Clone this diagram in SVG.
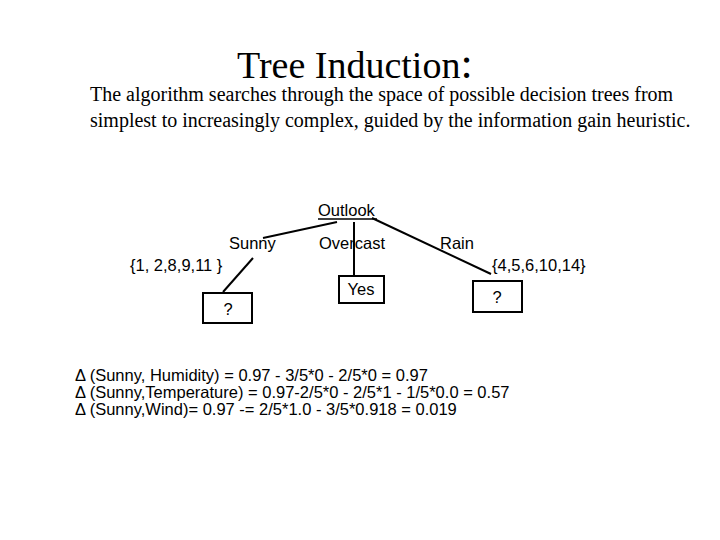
<svg xmlns="http://www.w3.org/2000/svg" width="720" height="540" viewBox="0 0 720 540">
<style>
.s{font-family:"Liberation Sans",Arial,sans-serif;font-size:16.5px;fill:#000}
.d{font-family:"Liberation Sans",Arial,sans-serif;font-size:16.5px;fill:#000}
.t{font-family:"Liberation Serif","Times New Roman",serif;fill:#000}
.b{fill:#fff;stroke:#000;stroke-width:2}
.c line{stroke:#000;stroke-width:2}
</style>
<rect width="720" height="540" fill="#fff"/>
<text class="t" x="237" y="78" font-size="38">Tree Induction<tspan font-size="44">:</tspan></text>
<text class="t" x="90" y="101" font-size="20">The algorithm searches through the space of possible decision trees from</text>
<text class="t" x="90" y="127" font-size="20">simplest to increasingly complex, guided by the information gain heuristic.</text>
<g id="connectors" class="c">
<line x1="337" y1="222" x2="263" y2="238"/>
<line x1="253" y1="258" x2="223" y2="292"/>
<line x1="354" y1="222" x2="354" y2="276"/>
<line x1="372" y1="218" x2="491" y2="274"/>
</g>
<g id="outlook"><text class="s" x="318" y="216">Outlook</text><line x1="318" y1="219" x2="377" y2="219" stroke="#000" stroke-width="1.5"/></g>
<g id="sunny"><text class="s" x="229" y="249">Sunny</text><text class="s" x="130" y="271">{1, 2,8,9,11 }</text></g>
<g id="overcast"><text class="s" x="319" y="249">Overcast</text></g>
<g id="rain"><text class="s" x="440" y="249">Rain</text><text class="s" x="492" y="271">{4,5,6,10,14}</text></g>
<g id="q1"><rect class="b" x="203" y="293" width="49" height="30"/><text class="s" x="228" y="315" text-anchor="middle">?</text></g>
<g id="yes"><rect class="b" x="339" y="276" width="45" height="27"/><text class="s" x="361" y="295" text-anchor="middle">Yes</text></g>
<g id="q2"><rect class="b" x="473" y="281" width="49" height="31"/><text class="s" x="497" y="303" text-anchor="middle">?</text></g>
<text class="d" x="75" y="381">Δ (Sunny, Humidity) = 0.97 - 3/5*0 - 2/5*0 = 0.97</text>
<text class="d" x="75" y="398">Δ (Sunny,Temperature) = 0.97-2/5*0 - 2/5*1 - 1/5*0.0 = 0.57</text>
<text class="d" x="75" y="415">Δ (Sunny,Wind)= 0.97 -= 2/5*1.0 - 3/5*0.918 = 0.019</text>
</svg>
